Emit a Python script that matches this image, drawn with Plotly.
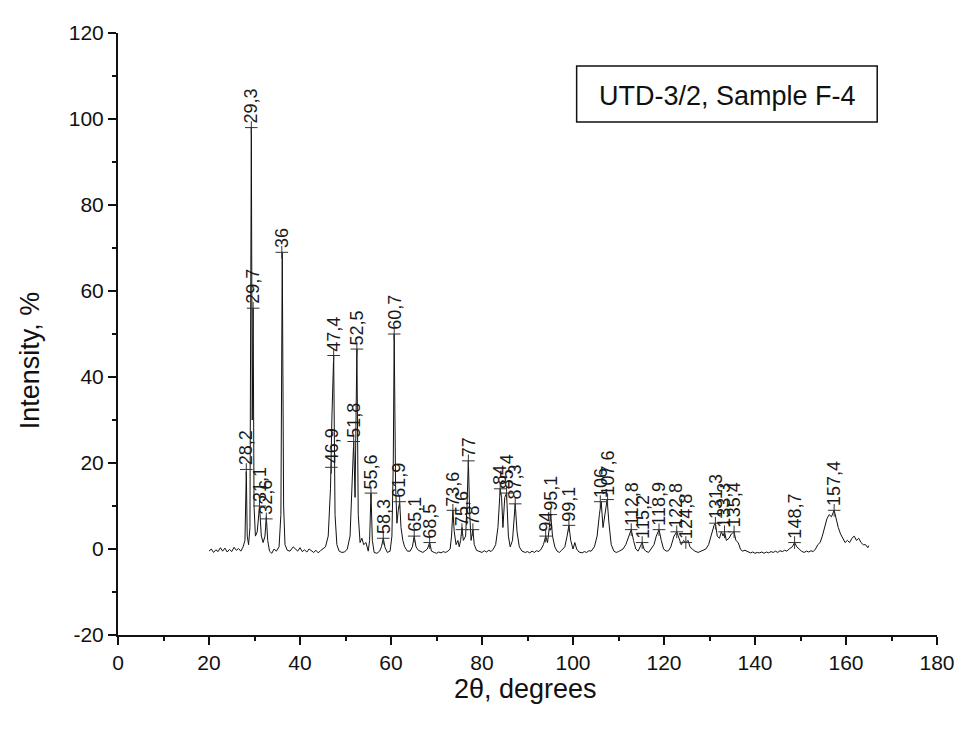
import plotly.graph_objects as go

# ---- pattern (2θ, intensity %) ----
two_theta = [
    20.0, 20.5, 21.0, 21.5, 22.0, 22.5, 23.0, 23.5, 24.0, 24.5, 25.0, 25.5, 26.0, 26.5, 27.0, 27.5,
    27.9, 28.2, 28.4, 28.7, 29.0, 29.3, 29.5, 29.7, 29.9, 30.2, 30.6, 31.1, 31.5, 31.9, 32.3, 32.6,
    32.9, 33.3, 33.8, 34.3, 34.8, 35.4, 35.8, 36.1, 36.4, 36.7, 37.2, 37.8, 38.5, 39.0, 39.5, 40.0,
    40.5, 41.0, 41.5, 42.0, 42.5, 43.0, 43.5, 44.0, 44.5, 45.0, 45.6, 46.2, 46.7, 47.0, 47.4, 47.7,
    48.1, 48.6, 49.2, 49.8, 50.4, 51.0, 51.5, 51.8, 52.1, 52.5, 52.8, 53.2, 53.6, 54.0, 54.5, 55.0,
    55.3, 55.6, 55.9, 56.3, 56.9, 57.5, 57.9, 58.3, 58.7, 59.2, 59.8, 60.2, 60.5, 60.7, 61.0, 61.3,
    61.6, 61.9, 62.2, 62.6, 63.0, 63.6, 64.2, 64.7, 65.1, 65.5, 66.0, 66.5, 67.0, 67.5, 68.0, 68.5,
    68.9, 69.5, 70.0, 70.5, 71.0, 71.5, 72.0, 72.5, 73.0, 73.3, 73.6, 73.9, 74.3, 74.7, 75.0, 75.3,
    75.6, 75.9, 76.4, 76.7, 77.0, 77.3, 77.6, 78.0, 78.3, 78.8, 79.5, 80.0, 80.5, 81.0, 81.5, 82.0,
    82.5, 83.0, 83.5, 84.0, 84.3, 84.6, 85.0, 85.4, 85.8, 86.2, 86.7, 87.0, 87.3, 87.7, 88.2, 88.8,
    89.5, 90.0, 90.5, 91.0, 91.5, 92.0, 92.5, 93.0, 93.5, 94.0, 94.4, 94.8, 95.1, 95.5, 96.0, 96.5,
    97.0, 97.5, 98.2, 98.7, 99.1, 99.5, 100.0, 100.4, 100.8, 101.3, 102.0, 102.5, 103.0, 103.5, 104.0, 104.7,
    105.3, 105.8, 106.2, 106.6, 107.0, 107.5, 107.9, 108.4, 109.0, 109.5, 110.0, 110.5, 111.0, 111.6, 112.2, 112.8,
    113.3, 113.8, 114.3, 114.8, 115.2, 115.6, 116.0, 116.6, 117.2, 117.8, 118.3, 118.9, 119.4, 119.9, 120.5, 121.0,
    121.5, 122.2, 122.8, 123.3, 123.8, 124.3, 124.8, 125.3, 125.7, 126.2, 126.8, 127.5, 128.0, 128.6, 129.2, 129.8,
    130.4, 131.0, 131.3, 131.7, 132.2, 132.6, 133.0, 133.3, 133.7, 134.3, 134.8, 135.4, 135.8, 136.3, 136.8, 137.2,
    137.8, 138.5, 139.0, 139.5, 140.0, 140.5, 141.0, 141.5, 142.0, 142.5, 143.0, 143.5, 144.0, 144.5, 145.0, 145.5,
    146.0, 146.5, 147.0, 147.5, 148.2, 148.7, 149.2, 149.7, 150.2, 150.8, 151.3, 151.8, 152.3, 152.8, 153.3, 153.8,
    154.3, 154.8, 155.3, 155.8, 156.3, 156.8, 157.4, 157.8, 158.3, 158.8, 159.3, 159.8, 160.3, 160.8, 161.3, 161.8,
    162.3, 162.8, 163.3, 163.8, 164.3, 164.8, 165.0,
]
intensity = [
    -0.5, 0.0, -0.8, -0.2, -0.6, 0.3, -0.5, 0.2, -0.7, -0.1, -0.6, 0.4, -0.3, 0.1, -0.5, 0.5,
    2.0, 18.0, 3.0, 1.0, 5.0, 98.0, 30.0, 56.0, 10.0, 3.0, 4.0, 10.0, 3.0, 1.5, 3.0, 7.5,
    2.0, -0.5, -1.0, 0.0, -0.5, 0.5, 8.0, 69.0, 10.0, 1.0, -0.3, -0.5, 0.5, 0.0, -0.5, 0.3,
    -0.6, -0.2, -0.7, 0.0, -0.5, -0.8, -0.3, -0.9, -0.4, 0.0, 0.5, 3.0, 14.0, 30.0, 45.0, 8.0,
    1.0, -0.5, -0.8, -0.7, 0.0, 3.0, 15.0, 25.0, 12.0, 46.5, 8.0, 1.5, 2.5, 1.0, 1.5, -0.5,
    2.0, 13.0, 2.0, -0.8, -1.0, -0.5, 0.5, 2.5, 0.3, -0.8, -0.5, 3.0, 20.0, 50.0, 15.0, 6.0,
    9.0, 11.0, 5.0, 2.0, 0.5, -0.5, -0.5, 0.5, 3.0, 0.5, -0.3, -0.5, -0.8, -0.4, 0.0, 1.5,
    -0.5, -0.8, -1.0, -0.7, -0.9, -0.6, -0.8, -0.5, 0.0, 3.0, 9.0, 4.0, 1.0, 2.0, 0.5, 2.0,
    5.0, 2.0, 3.0, 10.0, 20.5, 8.0, 2.0, 4.5, 1.0, -0.3, -0.5, -0.8, -0.4, -0.7, -0.3, -0.6,
    0.0, 1.0, 5.0, 14.0, 12.0, 5.0, 12.0, 13.0, 3.0, 0.5, 2.0, 7.0, 10.5, 4.0, 0.5, -0.5,
    -0.8, -0.6, -0.9, -0.5, -0.8, -0.4, -0.6, 0.0, 1.0, 3.0, 1.5, 5.0, 8.0, 3.0, 0.5, -0.5,
    -0.8, -0.3, 0.5, 3.0, 5.5, 2.0, 0.0, 1.5, 0.0, -0.7, -0.9, -0.6, -0.8, -0.4, -0.5, 0.5,
    3.0, 8.0, 11.0, 5.0, 8.0, 11.5, 6.0, 1.0, -0.5, -0.8, -0.6, -0.3, 0.0, 1.0, 3.0, 4.5,
    2.0, 0.0, -0.5, 0.5, 1.5, 0.0, -0.5, -0.8, 0.0, 1.0, 3.0, 4.5, 2.0, 0.0, -0.5, -0.4,
    0.5, 3.0, 4.0, 2.5, 1.0, 2.0, 1.5, 2.0, 0.5, 0.0, -0.5, -0.8, -0.6, -0.4, 0.0, 1.0,
    3.5, 5.5, 6.0, 3.0, 2.5, 4.0, 3.0, 4.0, 2.0, 2.5, 3.5, 4.0, 2.0, 1.5, 0.0, -0.5,
    -0.3, -0.6, -0.9, -0.7, -1.0, -0.8, -0.9, -0.7, -1.0, -0.7, -0.9, -0.6, -0.8, -0.5, -0.8, -0.4,
    -0.6, -0.3, -0.5, 0.0, 0.5, 1.5, 0.5, 0.0, -0.5, -0.8, -0.5, -0.7, -0.4, -0.6, 0.0, 1.0,
    1.5, 3.0, 5.0, 7.0, 8.0, 7.5, 9.0, 7.0, 5.0, 3.5, 2.5, 1.5, 2.0, 1.5, 2.5, 3.0,
    2.0, 2.5, 1.5, 1.0, 1.0, 0.3, 0.8,
]

# ---- labelled peaks ----
peak_pos = [28.2, 29.3, 29.7, 31.1, 32.6, 36, 46.9, 47.4, 51.8, 52.5, 55.6, 58.3, 60.7, 61.9,
            65.1, 68.5, 73.6, 75.6, 77, 78, 84, 85.4, 87.3, 94, 95.1, 99.1, 106, 107.6,
            112.8, 115.2, 118.9, 122.8, 124.8, 131.3, 133.3, 135.4, 148.7, 157.4]
peak_height = [18.5, 98, 56, 10, 7, 69, 19, 45, 25, 46.5, 13, 2.5, 50, 11,
               3, 1.5, 9, 4.5, 20.5, 4.5, 14, 13, 10.5, 3, 8, 5.5, 11, 11.5,
               4.5, 1.5, 4.5, 4, 1.5, 6, 4, 4, 1.5, 9]
peak_labels = ["28,2", "29,3", "29,7", "31,1", "32,6", "36", "46,9", "47,4", "51,8", "52,5",
               "55,6", "58,3", "60,7", "61,9", "65,1", "68,5", "73,6", "75,6", "77", "78",
               "84", "85,4", "87,3", "94", "95,1", "99,1", "106", "107,6", "112,8", "115,2",
               "118,9", "122,8", "124,8", "131,3", "133,3", "135,4", "148,7", "157,4"]

# ---- axis ticks ----
x_ticks = [0, 20, 40, 60, 80, 100, 120, 140, 160, 180]
y_ticks = [-20, 0, 20, 40, 60, 80, 100, 120]
y_tick_text = ["-20", "0", "20", "40", "60", "80", "100", "120"]

title_text = "UTD-3/2, Sample F-4"
x_title = "2θ, degrees"
y_title = "Intensity, %"

FONT = "Liberation Sans, Arial, sans-serif"
INK = "#1a1a1a"

fig = go.Figure()
fig.add_trace(go.Scatter(x=two_theta, y=intensity, mode="lines",
                         line=dict(color="#111111", width=1), showlegend=False,
                         hoverinfo="skip"))
fig.add_trace(go.Scatter(x=peak_pos, y=peak_height, mode="markers",
                         marker=dict(symbol="cross-thin", size=9,
                                     line=dict(color="#333333", width=1)),
                         showlegend=False, hoverinfo="skip"))

for px, ph, lab in zip(peak_pos, peak_height, peak_labels):
    fig.add_annotation(x=px, y=ph, text=lab, textangle=-90, showarrow=False,
                       xanchor="center", yanchor="bottom", yshift=2,
                       font=dict(family=FONT, size=18, color=INK))

# framed title box
fig.add_shape(type="rect", xref="paper", yref="paper", x0=0.560, x1=0.927,
              y0=0.852, y1=0.945, line=dict(color="#111111", width=1.5),
              fillcolor="white")
fig.add_annotation(xref="paper", yref="paper", x=0.744, y=0.896, text=title_text,
                   showarrow=False, xanchor="center", yanchor="middle",
                   font=dict(family=FONT, size=27, color="#111111"))

# axis titles
fig.add_annotation(xref="paper", yref="paper", x=-0.107, y=0.457, text=y_title,
                   textangle=-90, showarrow=False, xanchor="center", yanchor="middle",
                   font=dict(family=FONT, size=27, color="#111111"))
fig.add_annotation(xref="paper", yref="paper", x=0.497, y=-0.090, text=x_title,
                   showarrow=False, xanchor="center", yanchor="middle",
                   font=dict(family=FONT, size=27, color="#111111"))

axis_common = dict(showline=True, linecolor="#111111", linewidth=2, showgrid=False,
                   zeroline=False, ticks="outside", ticklen=8, tickwidth=1.5,
                   tickcolor="#111111", mirror=False, automargin=False,
                   tickfont=dict(family=FONT, size=21, color="#111111"),
                   minor=dict(ticks="outside", ticklen=4, tickwidth=1.5,
                              tickcolor="#111111", dtick=10, showgrid=False))

fig.update_xaxes(range=[0, 180], tickmode="array", tickvals=x_ticks,
                 ticktext=[str(v) for v in x_ticks], **axis_common)
fig.update_yaxes(range=[-20, 120], tickmode="array", tickvals=y_ticks, ticktext=y_tick_text,
                 **axis_common)

fig.update_layout(width=959, height=733, plot_bgcolor="white", paper_bgcolor="white",
                  margin=dict(l=118, r=22, t=33, b=98, autoexpand=False), showlegend=False)

fig.write_html("out.html")
